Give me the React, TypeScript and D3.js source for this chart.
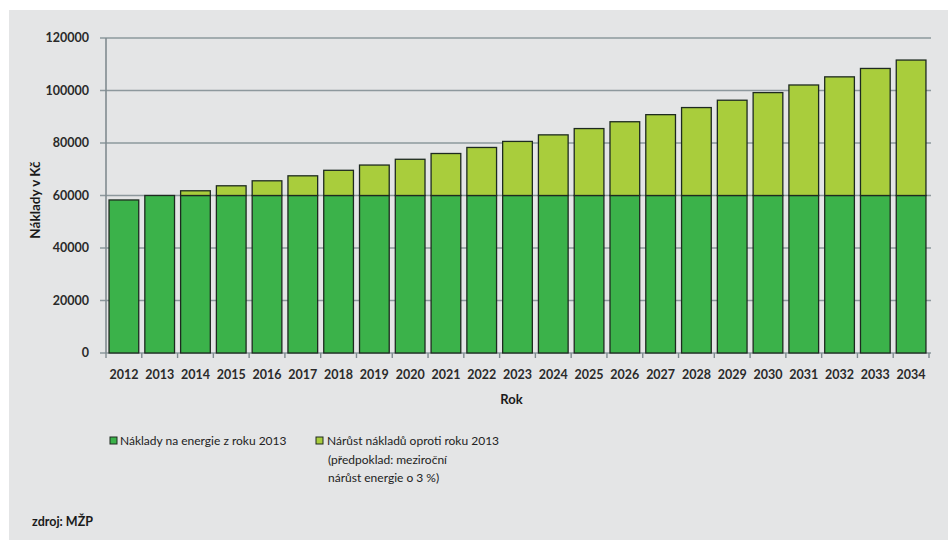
import React from "react";
import * as d3 from "d3";

// years on the x axis
const years = [
  "2012", "2013", "2014", "2015", "2016", "2017", "2018", "2019", "2020", "2021", "2022", "2023",
  "2024", "2025", "2026", "2027", "2028", "2029", "2030", "2031", "2032", "2033", "2034",
];

// dark green: energy costs at the 2013 level
const baseCosts = [
  58300, 60000, 60000, 60000, 60000, 60000, 60000, 60000, 60000, 60000, 60000, 60000,
  60000, 60000, 60000, 60000, 60000, 60000, 60000, 60000, 60000, 60000, 60000,
];

// light green: growth over 2013
const growth = [
  0, 0, 1800, 3700, 5600, 7500, 9600, 11600, 13800, 16000, 18300, 20600,
  23100, 25500, 28100, 30800, 33500, 36300, 39200, 42100, 45200, 48400, 51600,
];

const yTicks = [0, 20000, 40000, 60000, 80000, 100000, 120000];

const legendLabels = ["Náklady na energie z roku 2013", "Nárůst nákladů oproti roku 2013"];
const legendNote = ["(předpoklad: meziroční", "nárůst energie o 3 %)"];

const W = 948;
const H = 540;
const margin = { top: 38, right: 19, bottom: 187, left: 106 };
const darkGreen = "#3bb24a";
const lightGreen = "#a9cd3c";
const font = "Lato, 'Open Sans', sans-serif";

const App: React.FC = () => {
  const plotW = W - margin.left - margin.right;
  const plotH = H - margin.top - margin.bottom;

  const x = d3.scaleBand().domain(years).range([0, plotW]).paddingInner(0.17).paddingOuter(0.085);
  const step = x.step();
  const y = d3.scaleLinear().domain([0, 120000]).range([plotH, 0]);

  const stacked = years.map((yr, i) => ({ yr, base: baseCosts[i], extra: growth[i] }));

  return (
    <div style={{ position: "fixed", left: 0, top: 0 }}>
      <svg width={W} height={H} style={{ display: "block", fontFamily: font }}>
        <rect x={0} y={0} width={W} height={H} fill="#ffffff" />
        <rect x={9} y={10} width={W - 9} height={H - 10} fill="#e4e5e6" />

        <g transform={`translate(${margin.left},${margin.top})`}>
          {/* gridlines */}
          {yTicks.map((t) => (
            <line key={t} x1={-6} x2={plotW + 2} y1={y(t)} y2={y(t)} stroke="#8d989d" strokeWidth={1.6} />
          ))}
          {/* y axis */}
          <line x1={0} x2={0} y1={0} y2={plotH} stroke="#808b90" strokeWidth={1.6} />
          {yTicks.map((t) => (
            <text
              key={`l${t}`}
              x={-17}
              y={y(t)}
              dy="0.35em"
              textAnchor="end"
              fontSize={12.5}
              fontWeight={700}
              fill="#2a2a2a"
            >
              {t}
            </text>
          ))}
          {/* x ticks */}
          {d3.range(years.length + 1).map((i) => (
            <line key={`t${i}`} x1={i * step} x2={i * step} y1={plotH} y2={plotH + 5} stroke="#808b90" strokeWidth={1.4} />
          ))}

          {/* bars */}
          {stacked.map((d) => {
            const bx = x(d.yr)!;
            const bw = x.bandwidth();
            return (
              <g key={d.yr}>
                <rect
                  x={bx}
                  y={y(d.base)}
                  width={bw}
                  height={y(0) - y(d.base)}
                  fill={darkGreen}
                  stroke="#1e2a20"
                  strokeWidth={1.3}
                />
                {d.extra > 0 && (
                  <rect
                    x={bx}
                    y={y(d.base + d.extra)}
                    width={bw}
                    height={y(d.base) - y(d.base + d.extra)}
                    fill={lightGreen}
                    stroke="#1e2a20"
                    strokeWidth={1.3}
                  />
                )}
              </g>
            );
          })}

          {/* x labels */}
          {years.map((yr) => (
            <text
              key={`x${yr}`}
              x={x(yr)! + x.bandwidth() / 2}
              y={plotH + 22}
              dy="0.35em"
              textAnchor="middle"
              fontSize={12.5}
              fontWeight={700}
              fill="#2a2a2a"
            >
              {yr}
            </text>
          ))}
          <text x={plotW / 2 - 6} y={plotH + 46} dy="0.35em" textAnchor="middle" fontSize={13} fontWeight={700} fill="#1a1a1a">
            Rok
          </text>
        </g>

        {/* y axis title */}
        <text
          transform="translate(35,200) rotate(-90)"
          textAnchor="middle"
          dy="0.35em"
          fontSize={13.5}
          fontWeight={700}
          fill="#1a1a1a"
        >
          Náklady v Kč
        </text>

        {/* legend */}
        <rect x={110} y={437} width={7} height={7} fill={darkGreen} stroke="#1e2a20" strokeWidth={1} />
        <text x={120} y={441} dy="0.35em" fontSize={12} fill="#222">
          {legendLabels[0]}
        </text>
        <rect x={316} y={437} width={7} height={7} fill={lightGreen} stroke="#1e2a20" strokeWidth={1} />
        <text x={327} y={441} dy="0.35em" fontSize={12} fill="#222">
          {legendLabels[1]}
        </text>
        {legendNote.map((line, i) => (
          <text key={line} x={328} y={460 + i * 18} dy="0.35em" fontSize={12} fill="#222">
            {line}
          </text>
        ))}

        <text x={32} y={522} dy="0.35em" fontSize={12.5} fontWeight={700} fill="#1a1a1a">
          zdroj: MŽP
        </text>
      </svg>
    </div>
  );
};

export default App;
